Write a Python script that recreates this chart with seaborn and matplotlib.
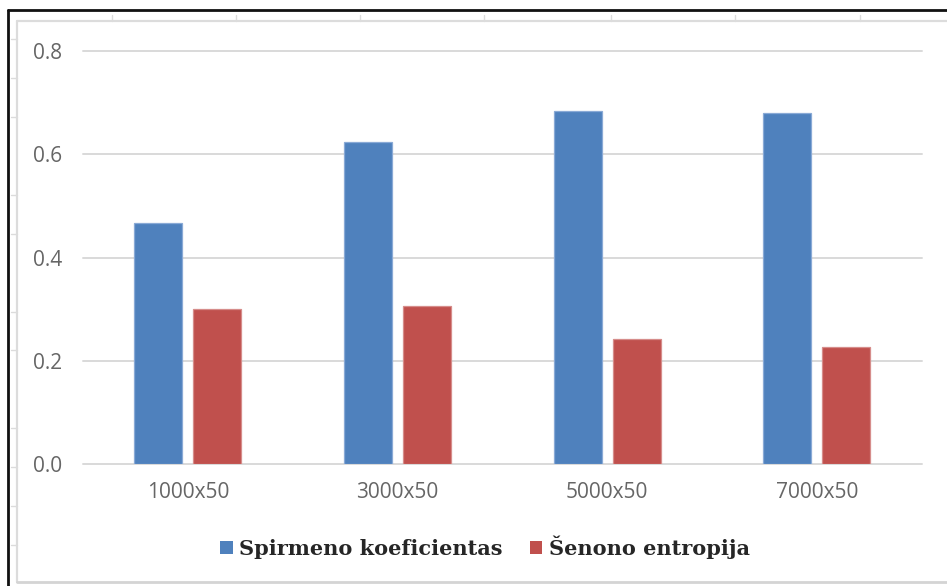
import matplotlib
matplotlib.use("Agg")
import matplotlib.pyplot as plt
from matplotlib.lines import Line2D
from matplotlib.patches import Patch
import seaborn as sns
import pandas as pd

# Data
categories = ["1000x50", "3000x50", "5000x50", "7000x50"]
spirmeno = [0.466, 0.623, 0.684, 0.680]
senono = [0.301, 0.307, 0.243, 0.227]
series_names = ["Spirmeno koeficientas", "Šenono entropija"]
y_ticks = [0.0, 0.2, 0.4, 0.6, 0.8]
y_tick_labels = ["0.0", "0.2", "0.4", "0.6", "0.8"]

colors = ["#4F81BD", "#C0504D"]
edge_colors = ["#8aaad6", "#d68d8b"]

df = pd.DataFrame({
    "category": categories * 2,
    "value": spirmeno + senono,
    "series": [series_names[0]] * len(categories) + [series_names[1]] * len(categories),
})

sns.set_theme(style="white")
plt.rcParams["font.family"] = ["Open Sans", "DejaVu Sans"]

W, H = 947, 586
fig = plt.figure(figsize=(W / 100, H / 100), dpi=100)
fig.patch.set_facecolor("white")

ax = fig.add_axes([83 / W, 1 - 464.3 / H, (921.7 - 83) / W, (464.3 - 50.7) / H])
sns.barplot(data=df, x="category", y="value", hue="series", order=categories,
            hue_order=series_names, palette=colors, width=0.565, gap=0.19,
            saturation=1, ax=ax, legend=False, zorder=3)

for patch in ax.patches:
    fc = patch.get_facecolor()
    patch.set_edgecolor(edge_colors[0] if fc[2] > fc[0] else edge_colors[1])
    patch.set_linewidth(0.9)

ax.set_xlim(-0.5, 3.5)
ax.set_ylim(0, 0.8)
ax.set_yticks(y_ticks)
ax.set_yticklabels(y_tick_labels)
ax.set_xlabel("")
ax.set_ylabel("")
for s in ax.spines.values():
    s.set_visible(False)
ax.grid(False)
for yv in y_ticks:
    ax.axhline(yv, color="#d9d9d9", lw=1.4, zorder=1, clip_on=False)
ax.tick_params(axis="both", length=0, labelsize=15, colors="#666666")
ax.tick_params(axis="y", pad=15)
ax.tick_params(axis="x", pad=13)

# Legend
handles = [Patch(facecolor=c, edgecolor="none") for c in colors]
fig.legend(handles, series_names, loc="center", bbox_to_anchor=(485 / W, 1 - 547 / H),
           ncol=2, frameon=False, handlelength=0.6, handleheight=0.6,
           handletextpad=0.3, columnspacing=1.3,
           prop={"family": "DejaVu Serif", "weight": "bold", "size": 15})

# Page frame around the chart
def fig_line(x0, y0, x1, y1, color, lw):
    fig.add_artist(Line2D([x0 / W, x1 / W], [1 - y0 / H, 1 - y1 / H],
                          color=color, lw=lw, transform=fig.transFigure))

fig_line(7.5, 10, 7.5, H, "#111111", 2.0)
fig_line(7.5, 10, W, 10, "#111111", 2.0)
fig_line(17, 21, 17, 582, "#dcdcdc", 1.6)
fig_line(17, 21, W, 21, "#dcdcdc", 1.6)
fig_line(17, 582, W, 582, "#d4d4d4", 2.0)
for x in [112, 236, 360, 484, 611, 735, 860]:
    fig_line(x, 15, x, 21, "#dcdcdc", 1.0)
for y in [39, 78, 117, 195, 234, 312, 350, 428, 467, 506, 545]:
    fig_line(11, y, 17, y, "#dcdcdc", 1.0)

fig.savefig("out.png", dpi=100, facecolor="white")
